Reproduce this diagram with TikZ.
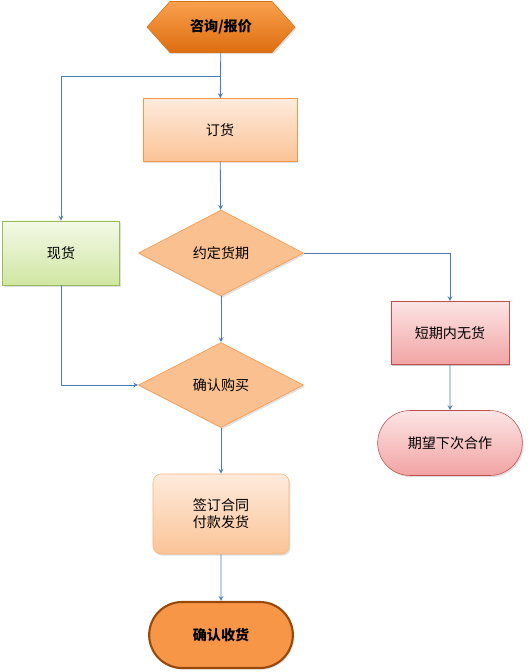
\documentclass[tikz,border=0pt]{standalone}
\usepackage{fontspec}
\newfontfamily\cjk{Noto Sans CJK SC}
\usetikzlibrary{shapes.geometric, shapes.misc, shapes.symbols, shadows}

\definecolor{lineblue}{HTML}{4A7EBB}
\definecolor{orangeedge}{HTML}{F79646}
\definecolor{peachtop}{HTML}{FEEBDC}
\definecolor{peachbottom}{HTML}{FBC396}
\definecolor{diamondfill}{HTML}{FAC090}
\definecolor{greenedge}{HTML}{9BBB59}
\definecolor{greentop}{HTML}{F3F9E7}
\definecolor{greenbottom}{HTML}{D0E6A2}
\definecolor{rededge}{HTML}{C0504D}
\definecolor{redtop}{HTML}{FCE4E4}
\definecolor{redbottom}{HTML}{F2A4A4}
\definecolor{hextop}{HTML}{F9A04E}
\definecolor{hexbottom}{HTML}{DE6E10}
\definecolor{brownedge}{HTML}{984807}

\tikzset{
    shade/.style={drop shadow={opacity=0.25, shadow xshift=1pt, shadow yshift=-1.2pt}},
    box/.style={rectangle, draw, inner sep=2pt, align=center, shade},
    peach/.style={box, draw=orangeedge, top color=peachtop, bottom color=peachbottom},
    pink/.style={draw=rededge, top color=redtop, bottom color=redbottom, shade},
    choice/.style={diamond, draw=orangeedge, fill=diamondfill, inner sep=0pt, shade},
    link/.style={->, draw=lineblue, line width=0.6pt}
}

\begin{document}
\begin{tikzpicture}[x=0.025cm, y=-0.025cm, >=stealth, font=\cjk]
    \useasboundingbox (0,0) rectangle (528,672);
    \node[signal, signal to=west and east, signal pointer angle=96, draw=hexbottom,
        top color=hextop, bottom color=hexbottom, shade,
        minimum width=3.7cm, minimum height=1.275cm, inner sep=0pt, font=\cjk\bfseries]
        (ask) at (221,27) {咨询/报价};
    \node[peach, minimum width=3.85cm, minimum height=1.575cm] (order) at (220,130) {订货};
    \node[box, draw=greenedge, top color=greentop, bottom color=greenbottom,
        minimum width=2.925cm, minimum height=1.6cm] (stock) at (61,253) {现货};
    \node[choice, minimum width=4.125cm, minimum height=2.15cm] (agree) at (221,253) {约定货期};
    \node[choice, minimum width=4.125cm, minimum height=2.125cm] (confirm) at (221,385) {确认购买};
    \node[box, pink, minimum width=2.95cm, minimum height=1.575cm] (short) at (450,333) {短期内无货};
    \node[rounded rectangle, pink,
        minimum width=3.85cm, minimum height=1.625cm] (hope) at (450,443) {期望下次合作};
    \node[peach, rounded corners=0.2cm, draw=orangeedge!70,
        minimum width=3.4cm, minimum height=2cm] (contract) at (221,514) {签订合同\\付款发货};
    \node[rounded rectangle, draw=brownedge, line width=1.5pt, fill=orangeedge, shade,
        minimum width=3.825cm, minimum height=1.65cm, font=\cjk\bfseries] (receive) at (221,635) {确认收货};
    \coordinate (split) at (221,76);

    \draw[link] (ask) -- (order);
    \draw[link] (split) -| (stock.north);
    \draw[link] (order) -- (agree);
    \draw[link] (agree) -- (confirm);
    \draw[link] (stock.south) |- (confirm.west);
    \draw[link] (agree.east) -| (short.north);
    \draw[link] (short) -- (hope);
    \draw[link] (confirm) -- (contract);
    \draw[link] (contract) -- (receive);
\end{tikzpicture}
\end{document}
